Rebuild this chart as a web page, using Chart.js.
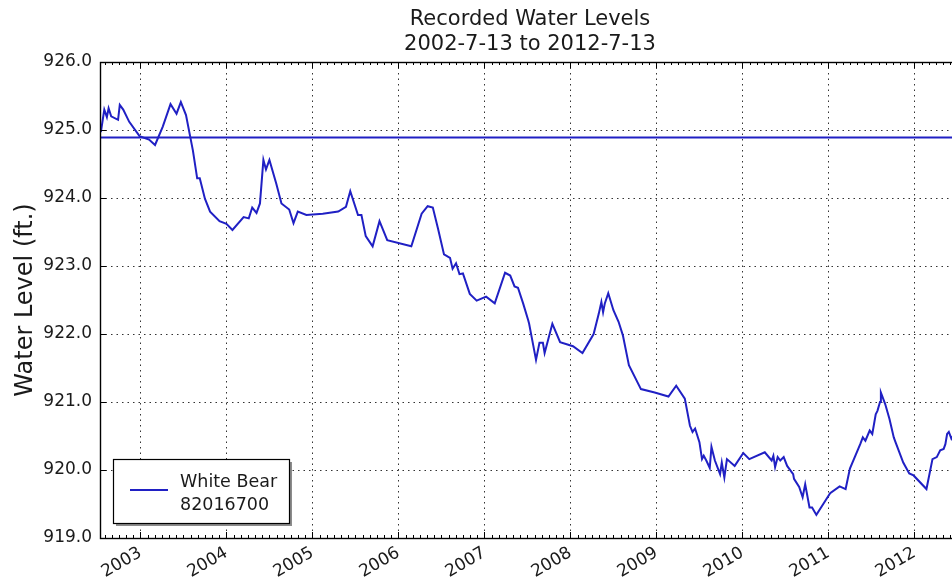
<!DOCTYPE html>
<html>
<head>
<meta charset="utf-8">
<title>Recorded Water Levels</title>
<script src="https://cdn.jsdelivr.net/npm/chart.js@4.4.1/dist/chart.umd.min.js"></script>
<style>
  html, body { margin: 0; padding: 0; background: #fff; overflow: hidden; }
  #wrap { width: 962px; height: 584px; }
</style>
</head>
<body>
<div id="wrap"><canvas id="levelChart"></canvas></div>
<script>
// chart data
const titleLines = ["Recorded Water Levels", "2002-7-13 to 2012-7-13"];
const seriesName = ["White Bear", "82016700"];
const yTitle = "Water Level (ft.)";
const yearTicks = [2003, 2004, 2005, 2006, 2007, 2008, 2009, 2010, 2011, 2012];
const levelTicks = [919, 920, 921, 922, 923, 924, 925, 926];
const xStart = 2002.53;
const xEnd = 2012.53;
const referenceLevel = 924.89;

// decimal years
const sampleYears = [
  2002.54, 2002.58, 2002.61, 2002.63, 2002.66, 2002.74, 2002.76, 2002.80, 2002.87, 2002.99,
  2003.10, 2003.17, 2003.26, 2003.35, 2003.42, 2003.47, 2003.53, 2003.61, 2003.66, 2003.69,
  2003.75, 2003.81, 2003.92, 2004.00, 2004.07, 2004.20, 2004.26, 2004.30, 2004.35, 2004.39,
  2004.43, 2004.46, 2004.50, 2004.58, 2004.64, 2004.73, 2004.78, 2004.83, 2004.93, 2005.12,
  2005.30, 2005.39, 2005.44, 2005.53, 2005.57, 2005.62, 2005.70, 2005.78, 2005.87, 2006.15,
  2006.27, 2006.34, 2006.40, 2006.46, 2006.53, 2006.60, 2006.63, 2006.67, 2006.71, 2006.75,
  2006.83, 2006.91, 2007.02, 2007.12, 2007.24, 2007.30, 2007.35, 2007.39, 2007.45, 2007.51,
  2007.52, 2007.55, 2007.60, 2007.64, 2007.68, 2007.70, 2007.79, 2007.88, 2008.03, 2008.14,
  2008.27, 2008.33, 2008.36, 2008.38, 2008.40, 2008.44, 2008.50, 2008.56, 2008.61, 2008.68,
  2008.82, 2008.98, 2009.14, 2009.23, 2009.33, 2009.39, 2009.42, 2009.45, 2009.50, 2009.53,
  2009.55, 2009.58, 2009.62, 2009.64, 2009.68, 2009.74, 2009.76, 2009.79, 2009.82, 2009.91,
  2010.01, 2010.08, 2010.26, 2010.34, 2010.36, 2010.38, 2010.41, 2010.44, 2010.48, 2010.52,
  2010.59, 2010.60, 2010.66, 2010.70, 2010.73, 2010.78, 2010.81, 2010.86, 2010.94, 2011.02,
  2011.13, 2011.20, 2011.25, 2011.37, 2011.40, 2011.43, 2011.48, 2011.51, 2011.55, 2011.57,
  2011.60, 2011.61, 2011.66, 2011.71, 2011.76, 2011.78, 2011.87, 2011.94, 2011.99, 2012.14,
  2012.21, 2012.26, 2012.30, 2012.34, 2012.36, 2012.38, 2012.40, 2012.43, 2012.47, 2012.52
];

// feet
const waterLevels = [
  924.97, 925.30, 925.19, 925.32, 925.20, 925.15, 925.37, 925.30, 925.12, 924.91,
  924.86, 924.78, 925.05, 925.38, 925.24, 925.41, 925.22, 924.70, 924.29, 924.29,
  923.99, 923.80, 923.66, 923.62, 923.53, 923.72, 923.70, 923.86, 923.78, 923.92,
  924.56, 924.42, 924.56, 924.21, 923.92, 923.83, 923.63, 923.80, 923.75, 923.77,
  923.80, 923.87, 924.10, 923.75, 923.75, 923.44, 923.29, 923.66, 923.38, 923.29,
  923.77, 923.88, 923.86, 923.55, 923.17, 923.12, 922.96, 923.04, 922.88, 922.89,
  922.59, 922.49, 922.55, 922.45, 922.90, 922.86, 922.70, 922.68, 922.45, 922.20,
  922.15, 921.95, 921.62, 921.87, 921.87, 921.72, 922.15, 921.88, 921.82, 921.72,
  922.00, 922.30, 922.47, 922.32, 922.45, 922.60, 922.35, 922.18, 921.98, 921.54,
  921.19, 921.14, 921.08, 921.24, 921.05, 920.65, 920.56, 920.61, 920.41, 920.16,
  920.21, 920.14, 920.03, 920.34, 920.14, 919.94, 920.11, 919.89, 920.16, 920.06,
  920.25, 920.16, 920.26, 920.14, 920.21, 920.04, 920.19, 920.14, 920.19, 920.06,
  919.94, 919.87, 919.75, 919.60, 919.79, 919.45, 919.45, 919.34, 919.50, 919.66,
  919.76, 919.72, 920.02, 920.38, 920.48, 920.43, 920.58, 920.53, 920.82, 920.87,
  921.00, 921.14, 920.97, 920.75, 920.48, 920.41, 920.11, 919.95, 919.92, 919.72,
  920.16, 920.19, 920.29, 920.31, 920.38, 920.53, 920.56, 920.46, 920.55, 920.50
];

const lineColor = "#2020c4";
const textColor = "#1a1a1a";
const fontFamily = "'DejaVu Sans', sans-serif";

// title centred over the plot, like matplotlib does
const plotTitle = {
  id: "plotTitle",
  afterDraw(chart) {
    const { ctx, chartArea: a } = chart;
    ctx.save();
    ctx.fillStyle = textColor;
    ctx.font = "21px " + fontFamily;
    ctx.textAlign = "center";
    ctx.textBaseline = "alphabetic";
    const cx = (a.left + a.right) / 2;
    ctx.fillText(titleLines[0], cx, 25);
    ctx.fillText(titleLines[1], cx, 49.5);
    ctx.restore();
  }
};

// frame + inward ticks (years major, months minor)
const frameTicks = {
  id: "frameTicks",
  afterDatasetsDraw(chart) {
    const { ctx, chartArea: a, scales: { x, y } } = chart;
    ctx.save();
    ctx.strokeStyle = "#000";
    ctx.lineWidth = 1;
    ctx.beginPath();
    for (let yr = Math.floor(xStart); yr <= Math.ceil(xEnd); yr++) {
      for (let m = 0; m < 12; m++) {
        const v = yr + m / 12;
        if (v < xStart || v > xEnd) continue;
        const px = Math.round(x.getPixelForValue(v)) + 0.5;
        const len = m === 0 ? 6 : 3;
        ctx.moveTo(px, a.bottom);
        ctx.lineTo(px, a.bottom - len);
        ctx.moveTo(px, a.top);
        ctx.lineTo(px, a.top + len);
      }
    }
    levelTicks.forEach(v => {
      const py = Math.round(y.getPixelForValue(v)) + 0.5;
      ctx.moveTo(a.left, py);
      ctx.lineTo(a.left + 6, py);
      ctx.moveTo(a.right, py);
      ctx.lineTo(a.right - 6, py);
    });
    ctx.stroke();
    ctx.lineWidth = 1.4;
    ctx.strokeRect(Math.round(a.left) + 0.5, Math.round(a.top) + 0.5,
      Math.round(a.right - a.left), Math.round(a.bottom - a.top));
    ctx.restore();
  }
};

// boxed legend with a drop shadow, two-line label
const boxLegend = {
  id: "boxLegend",
  afterDraw(chart) {
    const { ctx } = chart;
    const bx = 113, by = 459, bw = 176, bh = 64;
    ctx.save();
    ctx.fillStyle = "#8c8c8c";
    ctx.fillRect(bx + 3, by + 3, bw, bh);
    ctx.fillStyle = "#fff";
    ctx.fillRect(bx, by, bw, bh);
    ctx.strokeStyle = "#000";
    ctx.lineWidth = 1.2;
    ctx.strokeRect(bx + 0.5, by + 0.5, bw, bh);
    const ds = chart.data.datasets[0];
    ctx.strokeStyle = ds.borderColor;
    ctx.lineWidth = ds.borderWidth;
    ctx.beginPath();
    ctx.moveTo(bx + 17, by + 31);
    ctx.lineTo(bx + 55, by + 31);
    ctx.stroke();
    ctx.fillStyle = textColor;
    ctx.font = "17.5px " + fontFamily;
    ctx.textBaseline = "middle";
    ctx.textAlign = "left";
    ds.label.split("\n").forEach((t, i) => ctx.fillText(t, bx + 67, by + 23 + i * 23));
    ctx.restore();
  }
};

const points = sampleYears.map((yr, i) => ({ x: yr, y: waterLevels[i] }));
const refLine = [{ x: xStart, y: referenceLevel }, { x: xEnd, y: referenceLevel }];

new Chart(document.getElementById("levelChart"), {
  type: "line",
  data: {
    datasets: [
      {
        label: seriesName.join("\n"),
        data: points,
        borderColor: lineColor,
        borderWidth: 2,
        pointRadius: 0,
        tension: 0,
        fill: false
      },
      {
        label: "reference",
        data: refLine,
        borderColor: lineColor,
        borderWidth: 2,
        pointRadius: 0,
        fill: false
      }
    ]
  },
  options: {
    responsive: true,
    maintainAspectRatio: false,
    animation: false,
    events: [],
    layout: { padding: { top: 62, right: 2, left: 0, bottom: 0 } },
    plugins: {
      legend: { display: false },
      title: { display: false },
      tooltip: { enabled: false }
    },
    scales: {
      x: {
        type: "linear",
        min: xStart,
        max: xEnd,
        afterBuildTicks: s => { s.ticks = yearTicks.map(v => ({ value: v })); },
        afterFit: s => { s.height = 46; },
        grid: { color: "rgba(0,0,0,0.8)", lineWidth: 1, drawTicks: false },
        border: { display: false, dash: [1.5, 4] },
        ticks: {
          autoSkip: false,
          minRotation: 30,
          maxRotation: 30,
          padding: 5,
          color: textColor,
          font: { family: fontFamily, size: 17 },
          callback: v => String(v)
        }
      },
      y: {
        min: 919,
        max: 926,
        afterBuildTicks: s => { s.ticks = levelTicks.map(v => ({ value: v })); },
        afterFit: s => { s.width = 100; },
        grid: { color: "rgba(0,0,0,0.8)", lineWidth: 1, drawTicks: false },
        border: { display: false, dash: [1.5, 4] },
        ticks: {
          padding: 8,
          color: textColor,
          font: { family: fontFamily, size: 17 },
          callback: v => v.toFixed(1)
        },
        title: {
          display: true,
          text: yTitle,
          color: textColor,
          font: { family: fontFamily, size: 24 },
          padding: { top: 11, bottom: 0 }
        }
      }
    }
  },
  plugins: [plotTitle, frameTicks, boxLegend]
});
</script>
</body>
</html>
